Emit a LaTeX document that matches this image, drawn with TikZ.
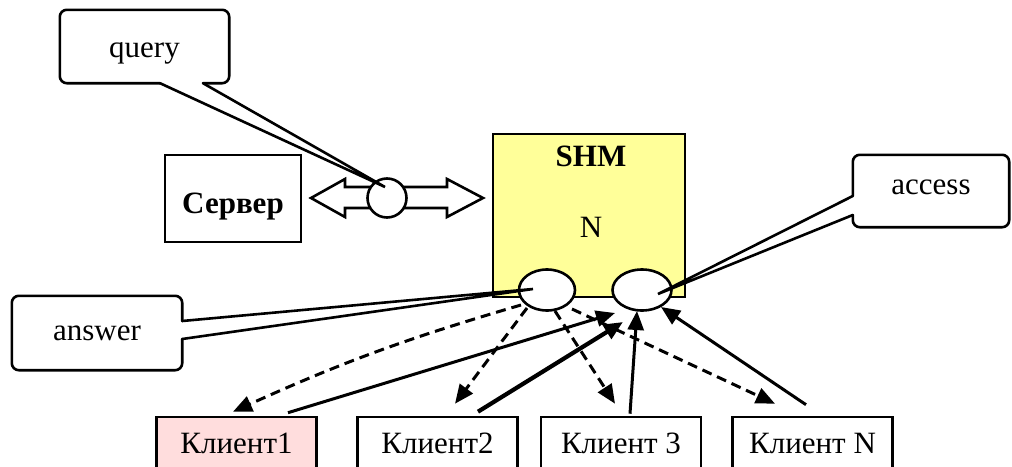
\documentclass[tikz,border=0pt]{standalone}
\usepackage{fontspec}
\setmainfont{Liberation Serif}
\usetikzlibrary{arrows.meta,shapes.geometric}
\definecolor{shmyellow}{RGB}{255,255,153}
\definecolor{clientpink}{RGB}{255,221,221}
\begin{document}
\begin{tikzpicture}[x=1pt,y=-1pt,
  font=\fontsize{31}{37}\selectfont,
  outline/.style={draw=black,line width=2.6pt},
  box/.style={outline,rectangle,inner sep=0pt},
  client/.style={box,fill=white,minimum width=160pt,minimum height=52pt},
  calloutbox/.style={fill=white,rounded corners=7pt,inner sep=0pt,text depth=7pt},
  calloutline/.style={line width=2.6pt,rounded corners=7pt,line cap=round},
  pointer/.style={line width=2.6pt,line join=miter,line cap=round},
  blob/.style={outline,ellipse,fill=white,inner sep=0pt},
  tip/.style={-{Triangle[length=19pt,width=16pt]}},
  req/.style={tip,line width=3pt},
  resp/.style={tip,line width=3pt,dash pattern=on 10pt off 6pt},
]
\useasboundingbox (0,0) rectangle (1012,466);
\clip (0,0) rectangle (1012,466);

% shared memory block with its two access points
\node[box,fill=shmyellow,minimum width=192pt,minimum height=163pt] (shm) at (589,215.5) {};
\node[font=\fontsize{31}{37}\selectfont\bfseries] (shmtitle) at (591,156) {SHM};
\node (shmn) at (591,227.5) {N};
\node[blob,minimum width=56pt,minimum height=41pt] (e1) at (547,290) {};
\node[blob,minimum width=59pt,minimum height=41pt] (e2) at (642,290) {};

% server and its two-way link to the shared memory
\node[box,minimum width=136pt,minimum height=87pt,text height=36pt,text depth=7pt,
  font=\fontsize{31}{37}\selectfont\bfseries] (srv) at (233,198.5) {Сервер};
\draw[outline,fill=white] (311,198) -- (345,179) -- (345,187) -- (447,187) -- (447,179)
  -- (483,198) -- (447,217) -- (447,208) -- (345,208) -- (345,217) -- cycle;
\node[outline,circle,fill=white,minimum size=39pt,inner sep=0pt] (c) at (387,198) {};

% clients
\node[client,fill=clientpink] (k1) at (236.5,443) {Клиент1};
\node[client] (k2) at (437.5,443) {Клиент2};
\node[client] (k3) at (621,443) {Клиент 3};
\node[client] (kn) at (812.5,443) {Клиент N};

% requests from the clients
\draw[req] ([shift={(51.5,-3)}]k1.north) -- ([shift={(-27,23)}]e2.center);
\draw[req,line width=4.2pt] ([shift={(40.5,-4)}]k2.north) -- ([shift={(-19,32)}]e2.center);
\draw[req] ([shift={(9,-2)}]k3.north) -- ([shift={(-5,21)}]e2.center);
\draw[req] ([shift={(-6.5,-11)}]kn.north) -- ([shift={(19,17)}]e2.center);

% answers to the clients
\draw[resp] ([shift={(-26,15)}]e1.center) to[bend right=4] ([shift={(-3.5,-4)}]k1.north);
\draw[resp] ([shift={(-20,18)}]e1.center) -- ([shift={(17.5,-12)}]k2.north);
\draw[resp] ([shift={(8,21)}]e1.center) -- ([shift={(-6,-12)}]k3.north);
\draw[resp] ([shift={(25,19)}]e1.center) -- ([shift={(-37.5,-12)}]kn.north);

% callouts: box outline left open where the pointer leaves it
\node[calloutbox,text height=28pt,minimum width=169pt,minimum height=73pt] (q) at (144.5,46.5) {query};
\draw[calloutline] ([xshift=58.5pt]q.south) -- (q.south east) -- (q.north east)
  -- (q.north west) -- (q.south west) -- ([xshift=15.5pt]q.south);
\draw[pointer] ([xshift=15.5pt]q.south) -- ([shift={(-2,-11)}]c.center) -- ([xshift=58.5pt]q.south);

\node[calloutbox,text height=21pt,minimum width=170pt,minimum height=74pt] (ans) at (97,333) {answer};
\draw[calloutline] ([shift={(0,6)}]ans.east) -- (ans.south east) -- (ans.south west)
  -- (ans.north west) -- (ans.north east) -- ([shift={(0,-12)}]ans.east);
\draw[pointer] ([shift={(0,-12)}]ans.east) -- ([shift={(-14,-1)}]e1.center) -- ([shift={(0,6)}]ans.east);

\node[calloutbox,text height=14pt,minimum width=156pt,minimum height=72pt] (acc) at (931,191) {access};
\draw[calloutline] ([shift={(0,5)}]acc.west) -- (acc.north west) -- (acc.north east)
  -- (acc.south east) -- (acc.south west) -- ([shift={(0,24)}]acc.west);
\draw[pointer] ([shift={(0,5)}]acc.west) -- ([shift={(16,4)}]e2.center) -- ([shift={(0,24)}]acc.west);
\end{tikzpicture}
\end{document}
